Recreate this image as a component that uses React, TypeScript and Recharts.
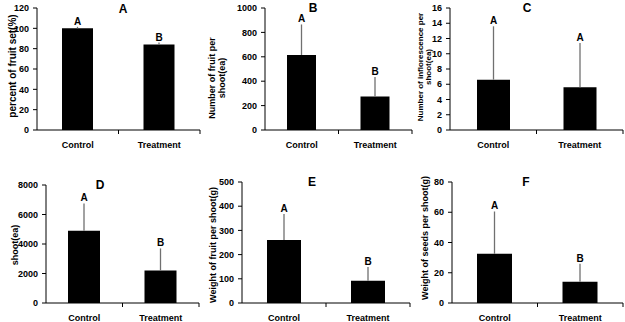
import React from "react";
import { Bar, BarChart, ErrorBar, LabelList, XAxis, YAxis } from "recharts";

const FONT = "'Liberation Sans', Arial, sans-serif";

const groups = ["Control", "Treatment"];

// A: fruit set
const fruitSetPct = [100, 84];
const fruitSetErr = [1.5, 2];
const fruitSetSig = ["A", "B"];
const fruitSetTicks = [0, 20, 40, 60, 80, 100, 120];

// B: number of fruit per shoot
const fruitCount = [615, 275];
const fruitCountErr = [250, 160];
const fruitCountSig = ["A", "B"];
const fruitCountTicks = [0, 200, 400, 600, 800, 1000];

// C: inflorescences per shoot
const inflorCount = [6.6, 5.6];
const inflorCountErr = [7, 5.8];
const inflorCountSig = ["A", "A"];
const inflorCountTicks = [0, 2, 4, 6, 8, 10, 12, 14, 16];

// D: per shoot (ea)
const shootCount = [4900, 2200];
const shootCountErr = [1850, 1500];
const shootCountSig = ["A", "B"];
const shootCountTicks = [0, 2000, 4000, 6000, 8000];

// E: fruit weight per shoot
const fruitWeight = [260, 92];
const fruitWeightErr = [108, 57];
const fruitWeightSig = ["A", "B"];
const fruitWeightTicks = [0, 100, 200, 300, 400, 500];

// F: seed weight per shoot
const seedWeight = [32.5, 14];
const seedWeightErr = [28, 12];
const seedWeightSig = ["A", "B"];
const seedWeightTicks = [0, 20, 40, 60, 80];

type Row = { group: string; value: number; err: [number, number]; gap: number; sig: string };

function buildRows(values: number[], errs: number[], sig: string[]): Row[] {
  return groups.map((g, i) => ({
    group: g,
    value: values[i],
    err: [0, errs[i]],
    gap: errs[i],
    sig: sig[i],
  }));
}

// category label plus the excel-style tick mark on the band boundary
function GroupTick({ x, y, payload, band }: any) {
  const edge = x + band / 2;
  return (
    <g>
      <line x1={edge} x2={edge} y1={y} y2={y + 4} stroke="#000" />
      <text
        x={x}
        y={y + 15}
        textAnchor="middle"
        dominantBaseline="central"
        fontSize={9}
        fontWeight="bold"
        fontFamily={FONT}
        fill="#000"
      >
        {payload.value}
      </text>
    </g>
  );
}

type TitleLine = { text: string; x: number };

type PanelProps = {
  title: string;
  titleX: number;
  titleY: number;
  left: number;
  top: number;
  width: number;
  height: number;
  margin: { top: number; right: number; left: number };
  xHeight: number;
  yWidth: number;
  barSize: number;
  rows: Row[];
  ticks: number[];
  yLines: TitleLine[];
  yCenter: number;
  yFont: number;
};

function Panel(p: PanelProps) {
  const max = p.ticks[p.ticks.length - 1];
  const band = (p.width - p.margin.left - p.margin.right - p.yWidth) / p.rows.length;
  const yTitle = () => (
    <g>
      {p.yLines.map((l) => (
        <text
          key={l.text}
          x={l.x}
          y={p.yCenter}
          transform={`rotate(-90 ${l.x} ${p.yCenter})`}
          textAnchor="middle"
          dominantBaseline="central"
          fontSize={p.yFont}
          fontWeight="bold"
          fontFamily={FONT}
          fill="#000"
        >
          {l.text}
        </text>
      ))}
    </g>
  );
  return (
    <>
      <div style={{ position: "absolute", left: p.left, top: p.top }}>
        <BarChart
          width={p.width}
          height={p.height}
          data={p.rows}
          margin={{ ...p.margin, bottom: 0 }}
        >
          <XAxis
            dataKey="group"
            height={p.xHeight}
            stroke="#000"
            axisLine={{ stroke: "#000" }}
            tickLine={false}
            tickSize={0}
            tickMargin={0}
            tick={<GroupTick band={band} />}
            interval={0}
          />
          <YAxis
            domain={[0, max]}
            ticks={p.ticks}
            allowDataOverflow
            width={p.yWidth}
            tickSize={4}
            tickMargin={4}
            stroke="#000"
            axisLine={{ stroke: "#000" }}
            tickLine={{ stroke: "#000" }}
            tick={{ fontSize: 9, fontWeight: "bold", fontFamily: FONT, fill: "#000" }}
            label={{ content: yTitle }}
          />
          <Bar dataKey="value" stackId="s" fill="#000" barSize={p.barSize} isAnimationActive={false}>
            <ErrorBar dataKey="err" direction="y" width={0} stroke="#707070" strokeWidth={1.3} />
          </Bar>
          <Bar dataKey="gap" stackId="s" fill="none" barSize={p.barSize} isAnimationActive={false}>
            <LabelList
              dataKey="sig"
              position="top"
              offset={2}
              fontSize={10}
              fontWeight="bold"
              fontFamily={FONT}
              fill="#000"
            />
          </Bar>
        </BarChart>
      </div>
      <div
        style={{
          position: "absolute",
          left: p.titleX - 10,
          top: p.titleY - 8,
          width: 20,
          height: 16,
          lineHeight: "16px",
          textAlign: "center",
          fontSize: 12,
          fontWeight: "bold",
          fontFamily: FONT,
          color: "#000",
        }}
      >
        {p.title}
      </div>
    </>
  );
}

export default function App() {
  return (
    <div
      style={{
        position: "absolute",
        left: 0,
        top: 0,
        width: 625,
        height: 322,
        overflow: "hidden",
        background: "#fff",
      }}
    >
      <Panel
        title="A"
        titleX={123}
        titleY={9}
        left={0}
        top={0}
        width={205}
        height={160}
        margin={{ top: 8, right: 5, left: 0 }}
        xHeight={30}
        yWidth={37}
        barSize={31}
        rows={buildRows(fruitSetPct, fruitSetErr, fruitSetSig)}
        ticks={fruitSetTicks}
        yLines={[{ text: "percent of fruit set(%)", x: 12 }]}
        yCenter={66}
        yFont={10}
      />
      <Panel
        title="B"
        titleX={313}
        titleY={8}
        left={205}
        top={0}
        width={210}
        height={160}
        margin={{ top: 8, right: 3, left: 0 }}
        xHeight={30}
        yWidth={60}
        barSize={29}
        rows={buildRows(fruitCount, fruitCountErr, fruitCountSig)}
        ticks={fruitCountTicks}
        yLines={[
          { text: "Number of fruit per", x: 7 },
          { text: "shoot(ea)", x: 17 },
        ]}
        yCenter={78}
        yFont={9}
      />
      <Panel
        title="C"
        titleX={527}
        titleY={8}
        left={410}
        top={0}
        width={215}
        height={160}
        margin={{ top: 8, right: 2, left: 0 }}
        xHeight={30}
        yWidth={40}
        barSize={33}
        rows={buildRows(inflorCount, inflorCountErr, inflorCountSig)}
        ticks={inflorCountTicks}
        yLines={[
          { text: "Number of inflorescence per", x: 10 },
          { text: "shoot(ea)", x: 18 },
        ]}
        yCenter={67}
        yFont={8}
      />
      <Panel
        title="D"
        titleX={100}
        titleY={185}
        left={0}
        top={160}
        width={205}
        height={162}
        margin={{ top: 25, right: 6, left: 0 }}
        xHeight={19}
        yWidth={46}
        barSize={32}
        rows={buildRows(shootCount, shootCountErr, shootCountSig)}
        ticks={shootCountTicks}
        yLines={[{ text: "shoot(ea)", x: 15 }]}
        yCenter={85}
        yFont={9}
      />
      <Panel
        title="E"
        titleX={312}
        titleY={182}
        left={205}
        top={160}
        width={210}
        height={162}
        margin={{ top: 22, right: 5, left: 0 }}
        xHeight={19}
        yWidth={37}
        barSize={34}
        rows={buildRows(fruitWeight, fruitWeightErr, fruitWeightSig)}
        ticks={fruitWeightTicks}
        yLines={[{ text: "Weight of fruit per shoot(g)", x: 8 }]}
        yCenter={85}
        yFont={9}
      />
      <Panel
        title="F"
        titleX={526}
        titleY={182}
        left={410}
        top={160}
        width={215}
        height={162}
        margin={{ top: 22, right: 2, left: 0 }}
        xHeight={19}
        yWidth={42}
        barSize={35}
        rows={buildRows(seedWeight, seedWeightErr, seedWeightSig)}
        ticks={seedWeightTicks}
        yLines={[{ text: "Weight of seeds per shoot(g)", x: 15 }]}
        yCenter={78}
        yFont={9}
      />
    </div>
  );
}
